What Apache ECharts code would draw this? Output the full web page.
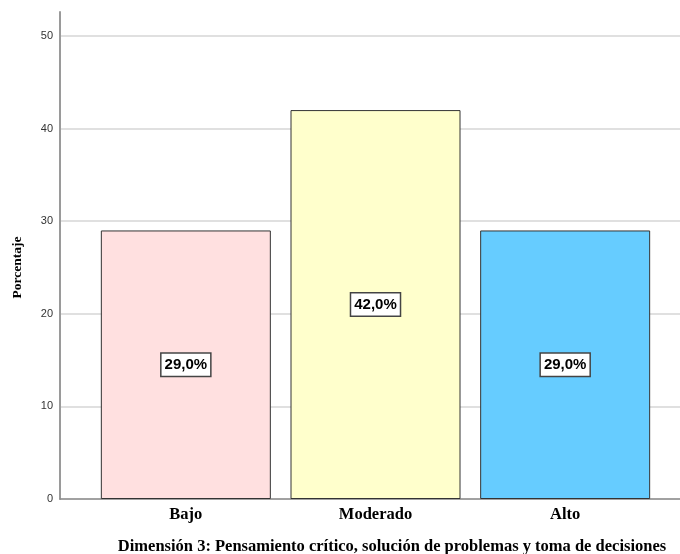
<!DOCTYPE html>
<html><head><meta charset="utf-8">
<script src="https://cdn.jsdelivr.net/npm/echarts@6/dist/echarts.min.js"></script>
<style>html,body{margin:0;padding:0;background:#fff}#c{width:680px;height:554px}</style>
</head><body><div id="c"></div>
<script>
var categories = ['Bajo', 'Moderado', 'Alto'];
var values = [29.0, 42.0, 29.0];
var colors = ['#FFE0E0', '#FFFFCC', '#66CCFF'];
var yTicks = [0, 10, 20, 30, 40, 50];
var yName = 'Porcentaje';
var xTitle = 'Dimensión 3: Pensamiento crítico, solución de problemas y toma de decisiones';

var serif = '"Liberation Serif","Times New Roman",serif';
var sans = '"Liberation Sans",Arial,sans-serif';
var chart = echarts.init(document.getElementById('c'));
chart.setOption({
  animation: false,
  grid: [
    {left: 60, right: 0, top: 12, bottom: 55},
    {left: 60, right: 0, top: 36, bottom: 55},
    {left: 91, right: 20, top: 36, bottom: 55}
  ],
  xAxis: [
    {gridIndex: 0, type: 'value', min: 0, max: 1, axisLine: {show: true, lineStyle: {color: '#8c8c8c', width: 1.5}}, axisTick: {show: false}, axisLabel: {show: false}, splitLine: {show: false}},
    {gridIndex: 1, type: 'value', min: 0, max: 1, show: false},
    {gridIndex: 2, type: 'category', data: categories, axisLine: {show: false}, axisTick: {show: false},
     axisLabel: {margin: 7, fontFamily: serif, fontWeight: 'bold', fontSize: 16.5, color: '#000'}}
  ],
  yAxis: [
    {gridIndex: 0, type: 'value', min: 0, max: 52.6, axisLine: {show: true, lineStyle: {color: '#9a9a9a', width: 2}}, axisTick: {show: false}, axisLabel: {show: false}, splitLine: {show: false}},
    {gridIndex: 1, type: 'value', min: yTicks[0], max: yTicks[yTicks.length - 1], interval: 10,
     axisLine: {show: false}, axisTick: {show: false},
     axisLabel: {margin: 7, fontFamily: sans, fontSize: 11, color: '#333'},
     splitLine: {show: true, lineStyle: {color: '#d6d6d6', width: 1.5}},
     name: yName, nameLocation: 'middle', nameGap: 35, nameRotate: 90,
     nameTextStyle: {fontFamily: serif, fontWeight: 'bold', fontSize: 13.5, color: '#000'}},
    {gridIndex: 2, type: 'value', min: yTicks[0], max: yTicks[yTicks.length - 1], show: false}
  ],
  series: [{
    type: 'bar', xAxisIndex: 2, yAxisIndex: 2, barWidth: 170,
    data: values.map(function (v, i) { return {value: v, itemStyle: {color: colors[i]}}; }),
    itemStyle: {borderColor: '#333', borderWidth: 1},
    label: {show: true, position: 'inside',
      formatter: function (p) { return p.value.toFixed(1).replace('.', ',') + '%'; },
      backgroundColor: '#fff', borderColor: '#444', borderWidth: 1.5, padding: [4, 3, 3, 3],
      fontFamily: sans, fontWeight: 'bold', fontSize: 15, color: '#000'}
  }],
  graphic: [{type: 'text', x: 392, y: 547, style: {text: xTitle, textAlign: 'center', textVerticalAlign: 'middle',
    font: 'bold 16.5px ' + serif, fill: '#000'}}]
});
</script></body></html>
